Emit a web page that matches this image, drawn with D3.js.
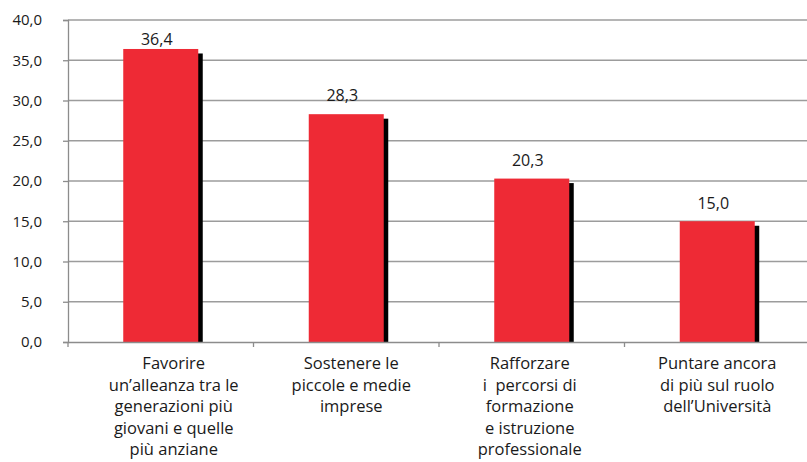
<!DOCTYPE html>
<html>
<head>
<meta charset="utf-8">
<script src="https://cdn.jsdelivr.net/npm/d3@7"></script>
<style>
  body { margin: 0; background: #fff; }
  svg { display: block; font-family: "Open Sans", sans-serif; }
</style>
</head>
<body>
<div class="visualisation"></div>
<script>
//DATA
var categories = ["cat1", "cat2", "cat3", "cat4"];
var values = [36.4, 28.3, 20.3, 15.0];
var categoryLabels = [
	["Favorire", "un\u2019alleanza tra le", "generazioni più", "giovani e quelle", "più anziane"],
	["Sostenere le", "piccole e medie", "imprese"],
	["Rafforzare", "i  percorsi di", "formazione", "e istruzione", "professionale"],
	["Puntare ancora", "di più sul ruolo", "dell\u2019Università"]
];
var yTicks = [0, 5, 10, 15, 20, 25, 30, 35, 40];

//CANVAS
var W = 807, H = 462;
var margin = {top: 20, right: 0, bottom: 120, left: 68};

//hand placed label nudges of the original
var valueGap = [4, 13, 13, 12];
var labelShift = [13, 5, -2, 0];

var svg = d3.select(".visualisation").append("svg")
	.attr("width", W)
	.attr("height", H);

var fmt = function(v){ return d3.format(".1f")(v).replace(".", ","); };

var x = d3.scaleBand().domain(categories).range([margin.left, 810]).paddingInner(0).paddingOuter(0);
var y = d3.scaleLinear().domain([0, 40]).range([342, margin.top]);
var cx = function(i){ return x(categories[i]) + x.bandwidth()/2; };

//GRIDLINES
svg.append("g").selectAll("line")
	.data(yTicks.filter(function(t){ return t > 0; }))
	.enter().append("line")
	.attr("x1", margin.left).attr("x2", W)
	.attr("y1", function(d){ return y(d); }).attr("y2", function(d){ return y(d); })
	.attr("stroke", "#9c9c9c").attr("stroke-width", 1.3);

//Y AXIS
var yAxis = svg.append("g")
	.attr("transform", "translate(" + margin.left + ",0)")
	.call(d3.axisLeft(y).tickValues(yTicks).tickFormat(fmt).tickSize(5).tickPadding(21));
yAxis.select(".domain").attr("stroke", "#8c8c8c").attr("stroke-width", 1.3);
yAxis.selectAll(".tick line").attr("stroke", "#8c8c8c").attr("stroke-width", 1.3);
yAxis.selectAll(".tick text").attr("font-size", "15px").attr("fill", "#1a1a1a")
	.attr("font-family", "Open Sans, sans-serif");

//BARS
var barW = 75, sh = 4.5;
var bars = svg.append("g").selectAll("g").data(values).enter().append("g");
bars.append("rect")
	.attr("x", function(d, i){ return cx(i) - barW/2 + sh; })
	.attr("y", function(d){ return y(d) + sh; })
	.attr("width", barW)
	.attr("height", function(d){ return y(0) - y(d) - sh; })
	.attr("fill", "#000");
bars.append("rect")
	.attr("x", function(d, i){ return cx(i) - barW/2; })
	.attr("y", function(d){ return y(d); })
	.attr("width", barW)
	.attr("height", function(d){ return y(0) - y(d); })
	.attr("fill", "#ee2a35");
bars.append("text")
	.attr("x", function(d, i){ return cx(i) - 4; })
	.attr("y", function(d, i){ return y(d) - valueGap[i]; })
	.attr("text-anchor", "middle")
	.attr("font-size", "16px")
	.attr("fill", "#1a1a1a")
	.text(fmt);

//X AXIS
var xAxis = svg.append("g")
	.attr("transform", "translate(0," + y(0) + ")")
	.call(d3.axisBottom(x).tickSize(0).tickFormat(""));
xAxis.select(".domain").attr("stroke", "#8c8c8c").attr("stroke-width", 1.3);
xAxis.selectAll(".tick").remove();
svg.append("g").selectAll("line")
	.data(categories)
	.enter().append("line")
	.attr("x1", function(d){ return x(d); }).attr("x2", function(d){ return x(d); })
	.attr("y1", y(0)).attr("y2", y(0) + 5)
	.attr("stroke", "#8c8c8c").attr("stroke-width", 1.3);

//CATEGORY LABELS
var lab = svg.append("g").selectAll("text").data(categoryLabels).enter().append("text")
	.attr("text-anchor", "middle")
	.attr("font-size", "16.5px")
	.attr("fill", "#1a1a1a")
	.style("white-space", "pre");
lab.each(function(lines, i){
	var t = d3.select(this);
	lines.forEach(function(l, j){
		t.append("tspan")
			.attr("x", cx(i) + labelShift[i])
			.attr("y", 369 + j*21.6)
			.text(l);
	});
});
</script>
</body>
</html>
